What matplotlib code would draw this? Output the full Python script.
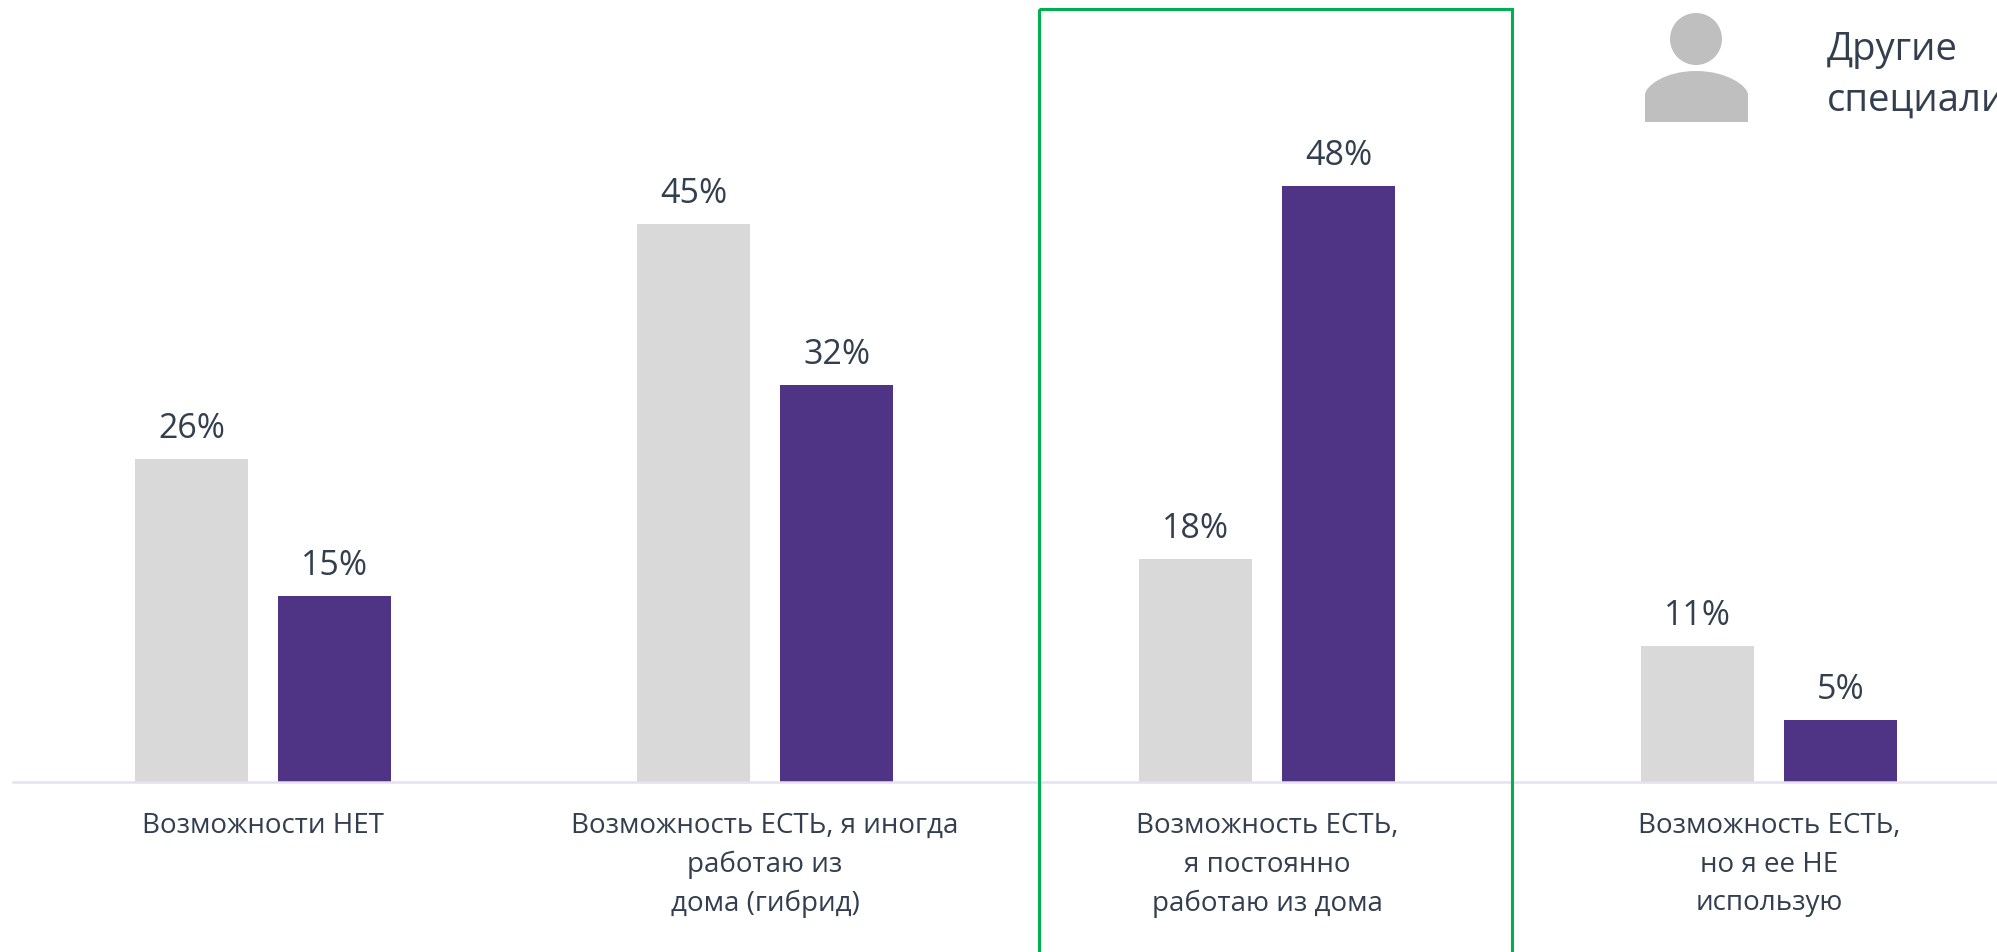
import numpy as np
import matplotlib
matplotlib.use('Agg')
import matplotlib.pyplot as plt
from matplotlib.patches import Circle, PathPatch, Rectangle
from matplotlib.path import Path
from matplotlib.transforms import Affine2D

plt.rcParams['font.family'] = ['Open Sans', 'DejaVu Sans']

categories = [
    'Возможности НЕТ',
    'Возможность ЕСТЬ, я иногда\nработаю из\nдома (гибрид)',
    'Возможность ЕСТЬ,\nя постоянно\nработаю из дома',
    'Возможность ЕСТЬ,\nно я ее НЕ\nиспользую',
]
other_specialists = [26, 45, 18, 11]
second_group = [15, 32, 48, 5]
legend_label = 'Другие\nспециалисты'

GRAY = '#D9D9D9'
PURPLE = '#4F3485'
TEXT = '#333F4F'
WIDTH, HEIGHT = 1997, 953

fig = plt.figure(figsize=(WIDTH / 100, HEIGHT / 100), dpi=100)
ax = fig.add_axes([13 / WIDTH, (HEIGHT - 783) / HEIGHT, (WIDTH - 13) / WIDTH, 783 / HEIGHT])
ax.set_xlim(-0.498, 3.454)
ax.set_ylim(0, 63.1)

x = np.arange(len(categories))
bar_w = 0.225
offset = 0.1425
bars_a = ax.bar(x - offset, other_specialists, bar_w, color=GRAY)
bars_b = ax.bar(x + offset, second_group, bar_w, color=PURPLE)
for bars in (bars_a, bars_b):
    ax.bar_label(bars, fmt='%d%%', padding=10, fontsize=24.5, color=TEXT)

for s in ('top', 'right', 'left'):
    ax.spines[s].set_visible(False)
ax.spines['bottom'].set_color('#E6E0F0')
ax.spines['bottom'].set_linewidth(1.8)
ax.set_yticks([])
ax.set_xticks(x)
ax.set_xticklabels(categories, fontsize=20, color=TEXT, linespacing=1.5)
ax.tick_params(axis='x', length=0, pad=21)

# overlay items are placed in reference pixels, y measured from the top
px = Affine2D().scale(1, -1).translate(0, HEIGHT)

fig.add_artist(Rectangle((1039, 10), 473, 1000, fill=False, edgecolor='#00B050',
                         linewidth=2.2, transform=px))

# person icon
fig.add_artist(Circle((1696, 40), 26, color='#BFBFBF', lw=0, transform=px))
body = Path(
    [(1645, 123), (1645, 96), (1645, 87), (1665, 72), (1696, 72),
     (1727, 72), (1748, 87), (1748, 96), (1748, 123), (1645, 123)],
    [Path.MOVETO, Path.LINETO, Path.CURVE4, Path.CURVE4, Path.CURVE4,
     Path.CURVE4, Path.CURVE4, Path.CURVE4, Path.LINETO, Path.CLOSEPOLY],
)
fig.add_artist(PathPatch(body, color='#BFBFBF', lw=0, transform=px))

fig.text(1827 / WIDTH, 1 - 31 / HEIGHT, legend_label, fontsize=27.5, color=TEXT,
         va='top', ha='left', linespacing=1.42)

fig.savefig('out.png', dpi=100)
